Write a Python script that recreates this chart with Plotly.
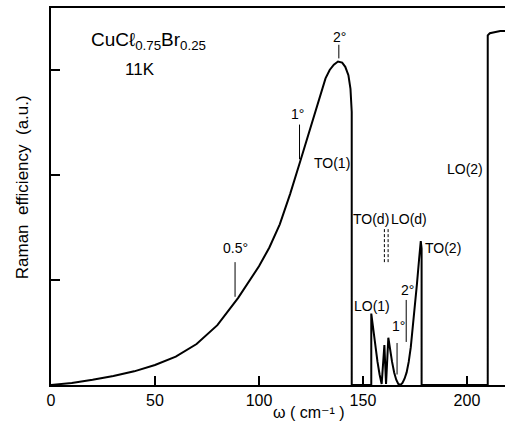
import plotly.graph_objects as go

# ---- data ----
main_x = [0, 10, 20, 30, 40, 50, 60, 70, 80, 90, 100, 105, 110, 115, 120, 125, 128, 130,
          132, 134, 136, 138, 140, 141.5, 143, 144, 144.6, 144.6]
main_y = [0, 0.02, 0.05, 0.085, 0.13, 0.19, 0.27, 0.39, 0.57, 0.83, 1.13, 1.31, 1.53, 1.82,
          2.14, 2.46, 2.66, 2.80, 2.92, 3.00, 3.05, 3.08, 3.07, 3.03, 2.95, 2.82, 2.6, 0]

ph_x = [144.6, 154.0, 154.0, 155, 156, 157, 158, 159, 160.3, 161.1, 162.2, 163, 164, 165,
        166, 167, 168, 169, 170, 171, 172, 173, 174, 175, 176, 177, 177.8, 178.2, 178.2,
        210.0, 210.0, 211, 213, 216, 219]
ph_y = [0, 0, 0.68, 0.52, 0.36, 0.22, 0.10, 0.01, 0.38, 0.01, 0.45, 0.33, 0.22, 0.12,
        0.05, 0.01, 0.0, 0.02, 0.06, 0.12, 0.22, 0.36, 0.55, 0.75, 0.97, 1.2, 1.37, 1.3, 0,
        0, 3.33, 3.35, 3.36, 3.37, 3.37]

# angle markers (solid) : x, y_bottom, y_top
mark_x = [88.5, 119.5, 138.4, 170.8, 166.4]
mark_y0 = [0.84, 2.15, 3.11, 0.41, 0.10]
mark_y1 = [1.17, 2.48, 3.24, 0.81, 0.40]

# defect-mode markers (dashed)
dmark_x = [160.3, 162.1]
dmark_y0 = [1.17, 1.17]
dmark_y1 = [1.50, 1.50]

# text labels
lab_text = ["0.5°", "1°", "2°", "TO(1)", "LO(2)", "TO(d)", "LO(d)", "TO(2)", "LO(1)", "2°", "1°"]
lab_x = [88.7, 118.5, 138.7, 135.3, 199.3, 153.9, 171.9, 188.7, 154.3, 171.4, 167.1]
lab_y = [1.30, 2.58, 3.31, 2.11, 2.06, 1.58, 1.58, 1.30, 0.75, 0.90, 0.56]

x_ticks = [0, 50, 100, 150, 200]
y_ticks = [1, 2, 3]

FONT = "Arial, Liberation Sans, DejaVu Sans, sans-serif"

fig = go.Figure()
fig.add_trace(go.Scatter(x=main_x, y=main_y, mode="lines",
                         line=dict(color="black", width=2), hoverinfo="skip"))
fig.add_trace(go.Scatter(x=ph_x, y=ph_y, mode="lines",
                         line=dict(color="black", width=2), hoverinfo="skip"))

mx, my = [], []
for x, a, b in zip(mark_x, mark_y0, mark_y1):
    mx += [x, x, None]
    my += [a, b, None]
fig.add_trace(go.Scatter(x=mx, y=my, mode="lines",
                         line=dict(color="black", width=1), hoverinfo="skip"))

dx, dy = [], []
for x, a, b in zip(dmark_x, dmark_y0, dmark_y1):
    dx += [x, x, None]
    dy += [a, b, None]
fig.add_trace(go.Scatter(x=dx, y=dy, mode="lines",
                         line=dict(color="black", width=1, dash="3px,2px"), hoverinfo="skip"))

for t, x, y in zip(lab_text, lab_x, lab_y):
    fig.add_annotation(x=x, y=y, text=t, showarrow=False,
                       font=dict(family=FONT, size=14, color="black"),
                       xanchor="center", yanchor="middle")

fig.add_annotation(x=46.9, y=3.28, text="CuCℓ<sub>0.75</sub>Br<sub>0.25</sub>", showarrow=False,
                   font=dict(family=FONT, size=19, color="black"), xanchor="center", yanchor="middle")
fig.add_annotation(x=43.0, y=3.0, text="11K", showarrow=False,
                   font=dict(family=FONT, size=17, color="black"), xanchor="center", yanchor="middle")

fig.add_annotation(xref="paper", yref="paper", x=0.569, y=-0.074,
                   text="ω ( cm⁻¹ )", showarrow=False,
                   font=dict(family=FONT, size=16, color="black"), xanchor="center", yanchor="middle")
fig.add_annotation(xref="paper", yref="paper", x=-0.0635, y=0.525,
                   text="Raman  efficiency  (a.u.)", showarrow=False, textangle=-90,
                   font=dict(family=FONT, size=17, color="black"), xanchor="center", yanchor="middle")

fig.update_layout(
    width=505, height=423, autosize=False,
    margin=dict(l=51, r=0, t=8, b=38),
    paper_bgcolor="white", plot_bgcolor="white",
    showlegend=False,
    font=dict(family=FONT, color="black"),
)
fig.update_xaxes(range=[0, 218.3], showline=True, linecolor="black", linewidth=2, mirror=True,
                 ticks="inside", tickvals=x_ticks, ticklen=9, tickwidth=1.5, tickcolor="black",
                 tickfont=dict(family=FONT, size=16, color="black"),
                 showgrid=False, zeroline=False)
fig.update_yaxes(range=[0, 3.59], showline=True, linecolor="black", linewidth=2, mirror=False,
                 ticks="inside", tickvals=y_ticks, ticklen=9, tickwidth=1.5, tickcolor="black",
                 showticklabels=False, showgrid=False, zeroline=False)

fig.write_html("out.html")
